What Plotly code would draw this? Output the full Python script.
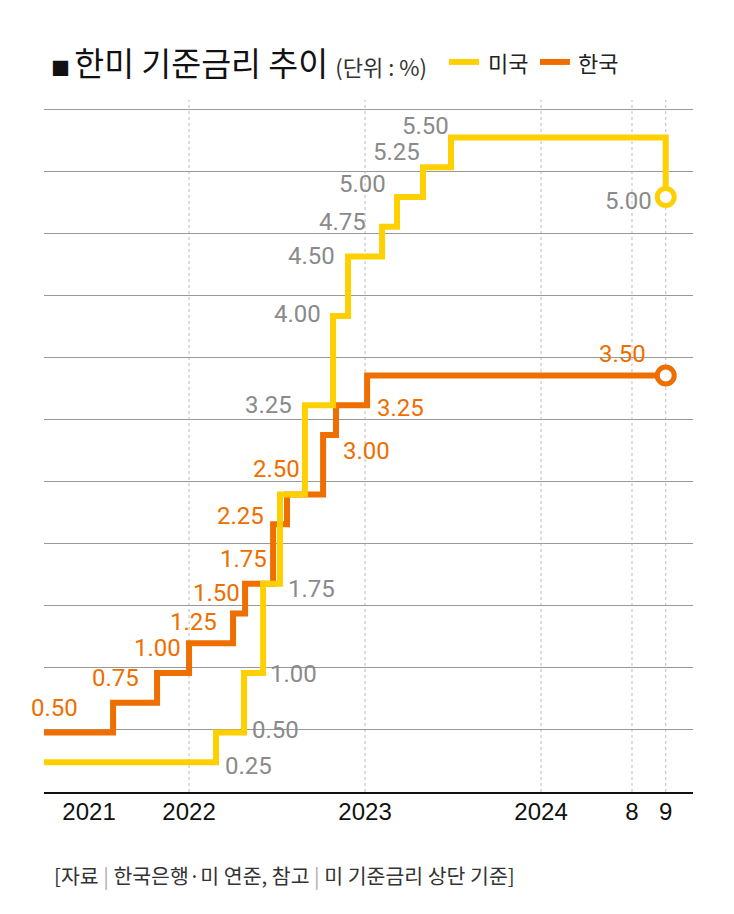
import plotly.graph_objects as go

# ---- data (x = position on the chart's own timeline, in months from Jan 2021) ----
kr_x = [2.11, 6.82, 9.82, 12.0, 15.0, 15.82, 17.73, 18.68, 21.14, 22.02, 24.14, 44.5]
kr_rate = [0.50, 0.75, 1.00, 1.25, 1.50, 1.75, 2.25, 2.50, 3.00, 3.25, 3.50, 3.50]
us_x = [2.11, 13.84, 15.75, 17.05, 18.2, 19.9, 21.82, 22.84, 25.16, 26.18, 27.95, 29.86, 44.5]
us_rate = [0.25, 0.50, 1.00, 1.75, 2.50, 3.25, 4.00, 4.50, 4.75, 5.00, 5.25, 5.50, 5.00]

tick_pos = [5.18, 12, 24, 36, 42.2, 44.5]
tick_text = ["2021", "2022", "2023", "2024", "8", "9"]
vgrid_x = [12, 24, 36, 42.2, 44.5]

# label placement (point index, xshift px, yshift px)
kr_labels = [(0, 10, 25), (1, 2, 25), (2, 0, 25), (3, 4, 21), (4, -17, 21), (5, -2, 25),
             (6, -33, 8), (7, -11, 25), (8, 43, -16), (9, 64, -3), (11, -43, 21)]
us_labels = [(0, 204, -4), (1, 59, 3), (2, 49, -1), (3, 48, -5), (5, -36, 0), (6, -36, 2),
             (7, -37, 0), (8, -40, 5), (9, -35, 13), (10, -26, 15), (11, -26, 11), (12, -37, -4)]

YELLOW = "#FFD000"
ORANGE = "#EE6E00"
GRAY_TXT = "#8a8a8a"
NUM_FONT = "Roboto, Liberation Sans, sans-serif"
KR_FONT = "Noto Sans CJK KR"

fig = go.Figure()

fig.add_trace(go.Scatter(x=kr_x, y=kr_rate, mode="lines", line=dict(color=ORANGE, width=6, shape="hv"),
                         name="한국", showlegend=False, hoverinfo="skip"))
fig.add_trace(go.Scatter(x=us_x, y=us_rate, mode="lines", line=dict(color=YELLOW, width=6, shape="hv"),
                         name="미국", showlegend=False, hoverinfo="skip"))
# end markers
fig.add_trace(go.Scatter(x=[kr_x[-1]], y=[kr_rate[-1]], mode="markers",
                         marker=dict(size=17, color="white", line=dict(color=ORANGE, width=5)),
                         showlegend=False, hoverinfo="skip"))
fig.add_trace(go.Scatter(x=[us_x[-1]], y=[us_rate[-1]], mode="markers",
                         marker=dict(size=17, color="white", line=dict(color=YELLOW, width=5)),
                         showlegend=False, hoverinfo="skip"))

annotations = []
for i, dx, dy in kr_labels:
    annotations.append(dict(x=kr_x[i], y=kr_rate[i], xref="x", yref="y", text=f"{kr_rate[i]:.2f}",
                            showarrow=False, xshift=dx, yshift=dy, xanchor="center", yanchor="middle",
                            font=dict(family=NUM_FONT, size=24, color=ORANGE)))
for i, dx, dy in us_labels:
    annotations.append(dict(x=us_x[i], y=us_rate[i], xref="x", yref="y", text=f"{us_rate[i]:.2f}",
                            showarrow=False, xshift=dx, yshift=dy, xanchor="center", yanchor="middle",
                            font=dict(family=NUM_FONT, size=24, color=GRAY_TXT)))

# title
annotations.append(dict(xref="paper", yref="paper", x=0.007, y=1.055, xanchor="left", yanchor="middle",
                        showarrow=False,
                        text="<span style='font-size:19px'>■ </span>한미 기준금리 추이 "
                             "<span style='font-size:22px;color:#333'>(단위 : %)</span>",
                        font=dict(family=KR_FONT, size=32.5, color="#111")))
# legend (manual)
annotations.append(dict(xref="paper", yref="paper", x=(486 - 44) / 649, y=1.055, xanchor="left",
                        yanchor="middle", showarrow=False, text="미국",
                        font=dict(family=KR_FONT, size=22, color="#222")))
annotations.append(dict(xref="paper", yref="paper", x=(576 - 44) / 649, y=1.055, xanchor="left",
                        yanchor="middle", showarrow=False, text="한국",
                        font=dict(family=KR_FONT, size=22, color="#222")))
# source
annotations.append(dict(xref="paper", yref="paper", x=(52 - 44) / 649, y=(792 - 875) / 692,
                        xanchor="left", yanchor="middle", showarrow=False,
                        text="[자료<span style='color:#aaa'> | </span>한국은행·미 연준, 참고"
                             "<span style='color:#aaa'> | </span>미 기준금리 상단 기준]",
                        font=dict(family=KR_FONT, size=20.5, color="#333")))

shapes = []
for vx in vgrid_x:
    shapes.append(dict(type="line", xref="x", yref="paper", x0=vx, x1=vx, y0=0, y1=1,
                       line=dict(color="#bbbbbb", width=1, dash="dot"), layer="below"))
shapes.append(dict(type="line", xref="paper", yref="paper", x0=(449 - 44) / 649, x1=(479 - 44) / 649,
                   y0=1.055, y1=1.055, line=dict(color=YELLOW, width=6)))
shapes.append(dict(type="line", xref="paper", yref="paper", x0=(540 - 44) / 649, x1=(570 - 44) / 649,
                   y0=1.055, y1=1.055, line=dict(color=ORANGE, width=6)))

fig.update_layout(
    width=734, height=914,
    margin=dict(l=44, r=41, t=100, b=122),
    paper_bgcolor="white", plot_bgcolor="white",
    showlegend=False,
    annotations=annotations,
    shapes=shapes,
    xaxis=dict(range=[2.11, 46.36], showgrid=False, zeroline=False,
               tickmode="array", tickvals=tick_pos, ticktext=tick_text, ticks="",
               ticklabelstandoff=-3,
               tickfont=dict(family="Liberation Sans, sans-serif", size=24, color="#111"),
               showline=True, linecolor="#111", linewidth=2, fixedrange=True),
    yaxis=dict(range=[0, 5.815], showgrid=True, gridcolor="#999999", gridwidth=1,
               tick0=0, dtick=0.5215, showticklabels=False, zeroline=False, ticks="",
               fixedrange=True),
)

fig.write_html("out.html")
